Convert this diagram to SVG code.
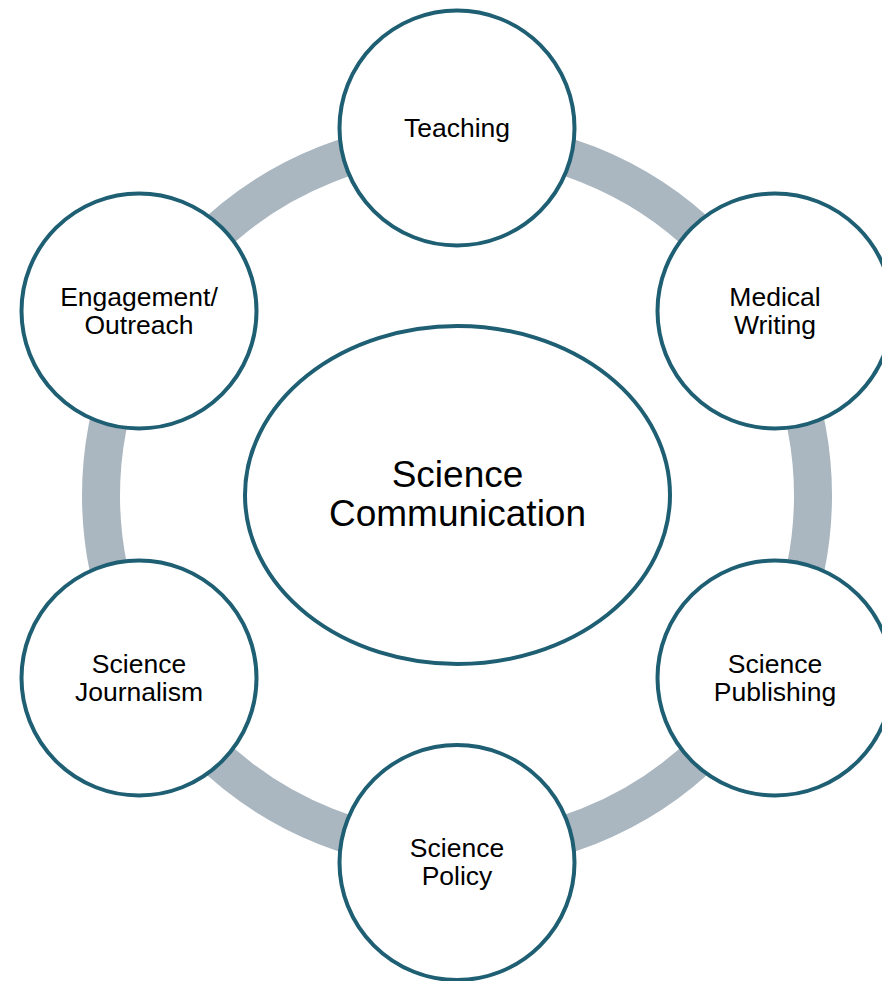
<svg xmlns="http://www.w3.org/2000/svg" width="882" height="981" viewBox="0 0 882 981">
<style>
.ring{fill:none;stroke:#AAB7C0;stroke-width:38}
.node{fill:#FFFFFF;stroke:#1F5F73;stroke-width:4}
.lbl{font-family:"Liberation Sans",Arial,sans-serif;font-size:26.5px;fill:#000000;text-anchor:middle}
.big{font-family:"Liberation Sans",Arial,sans-serif;font-size:37px;fill:#000000;text-anchor:middle}
</style>
<rect width="882" height="981" fill="#FFFFFF"/>
<g id="connectors">
<circle class="ring" cx="457" cy="495.5" r="356"/>
</g>
<g id="center">
<ellipse class="node" cx="457.5" cy="495" rx="212.5" ry="169"/>
<text class="big" x="457.5" y="487">Science</text>
<text class="big" x="457.5" y="526">Communication</text>
</g>
<g id="teaching">
<circle class="node" cx="457" cy="128" r="117.5"/>
<text class="lbl" x="457" y="136.5">Teaching</text>
</g>
<g id="medical-writing">
<circle class="node" cx="775" cy="311" r="117.5"/>
<text class="lbl" x="775" y="306">Medical</text>
<text class="lbl" x="775" y="333.5">Writing</text>
</g>
<g id="science-publishing">
<circle class="node" cx="775" cy="678" r="117.5"/>
<text class="lbl" x="775" y="673">Science</text>
<text class="lbl" x="775" y="700.5">Publishing</text>
</g>
<g id="science-policy">
<circle class="node" cx="457" cy="862.5" r="117.5"/>
<text class="lbl" x="457" y="857">Science</text>
<text class="lbl" x="457" y="884.5">Policy</text>
</g>
<g id="science-journalism">
<circle class="node" cx="139" cy="678" r="117.5"/>
<text class="lbl" x="139" y="673">Science</text>
<text class="lbl" x="139" y="700.5">Journalism</text>
</g>
<g id="engagement-outreach">
<circle class="node" cx="139" cy="311" r="117.5"/>
<text class="lbl" x="139" y="306">Engagement/</text>
<text class="lbl" x="139" y="333.5">Outreach</text>
</g>
</svg>
